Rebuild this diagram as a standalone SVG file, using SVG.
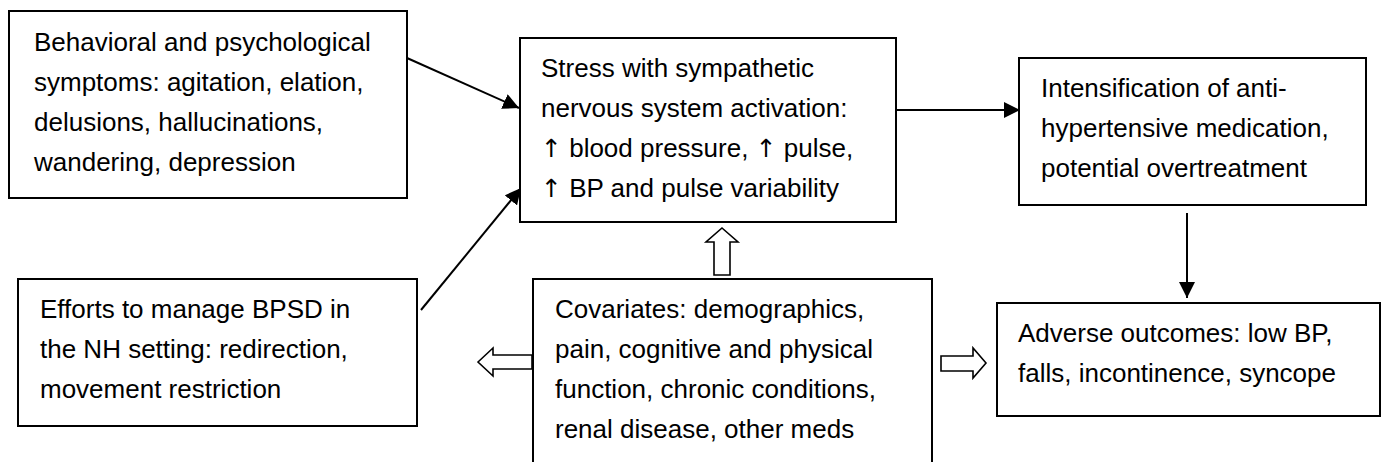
<svg xmlns="http://www.w3.org/2000/svg" width="1382" height="462" viewBox="0 0 1382 462">
<style>
.box{fill:#fff;stroke:#000;stroke-width:2}
.t{font-family:"Liberation Sans",Arial,sans-serif;font-size:26px;fill:#000}
.ar{font-family:"DejaVu Sans",sans-serif;font-size:25px}
.ln{stroke:#000;stroke-width:2;fill:none}
.hollow{fill:#fff;stroke:#000;stroke-width:1.6;stroke-linejoin:miter}
</style>
<defs>
<marker id="ah" viewBox="0 0 16 16" markerUnits="userSpaceOnUse" markerWidth="16" markerHeight="16" refX="16" refY="8" orient="auto">
<path d="M0,0 L16,8 L0,16 z" fill="#000"/>
</marker>
</defs>
<rect width="1382" height="462" fill="#fff"/>
<g id="connectors">
<line class="ln" x1="407" y1="58" x2="519" y2="108" marker-end="url(#ah)"/>
<line class="ln" x1="421" y1="310" x2="521" y2="188" marker-end="url(#ah)"/>
<line class="ln" x1="896" y1="110" x2="1020" y2="110" marker-end="url(#ah)"/>
<line class="ln" x1="1187" y1="213" x2="1187" y2="298" marker-end="url(#ah)"/>
<polygon class="hollow" points="722,228 738,242 730,242 730,275 714,275 714,242 706,242"/>
<polygon class="hollow" points="478,362 493,348 493,355 532,355 532,369 493,369 493,376"/>
<polygon class="hollow" points="986,363 973,348 973,356 941,356 941,371 973,371 973,378"/>
</g>
<g id="node-bpsd">
<rect class="box" x="9" y="11" width="398" height="187"/>
<text class="t" x="34" y="51">Behavioral and psychological</text>
<text class="t" x="34" y="91">symptoms: agitation, elation,</text>
<text class="t" x="34" y="131">delusions, hallucinations,</text>
<text class="t" x="34" y="171">wandering, depression</text>
</g>
<g id="node-stress">
<rect class="box" x="520" y="38" width="376" height="184"/>
<text class="t" x="541" y="77">Stress with sympathetic</text>
<text class="t" x="541" y="117">nervous system activation:</text>
<text class="t" x="541" y="157"><tspan class="ar">↑</tspan> blood pressure, <tspan class="ar">↑</tspan> pulse,</text>
<text class="t" x="541" y="197"><tspan class="ar">↑</tspan> BP and pulse variability</text>
</g>
<g id="node-intensification">
<rect class="box" x="1019" y="58" width="347" height="147"/>
<text class="t" x="1041" y="97">Intensification of anti-</text>
<text class="t" x="1041" y="137">hypertensive medication,</text>
<text class="t" x="1041" y="177">potential overtreatment</text>
</g>
<g id="node-efforts">
<rect class="box" x="18" y="279" width="399" height="147"/>
<text class="t" x="40" y="318">Efforts to manage BPSD in</text>
<text class="t" x="40" y="358">the NH setting: redirection,</text>
<text class="t" x="40" y="398">movement restriction</text>
</g>
<g id="node-covariates">
<rect class="box" x="533" y="279" width="399" height="200"/>
<text class="t" x="555" y="318">Covariates: demographics,</text>
<text class="t" x="555" y="358">pain, cognitive and physical</text>
<text class="t" x="555" y="398">function, chronic conditions,</text>
<text class="t" x="555" y="438">renal disease, other meds</text>
</g>
<g id="node-adverse">
<rect class="box" x="997" y="303" width="383" height="113"/>
<text class="t" x="1018" y="342">Adverse outcomes: low BP,</text>
<text class="t" x="1018" y="382">falls, incontinence, syncope</text>
</g>
</svg>
